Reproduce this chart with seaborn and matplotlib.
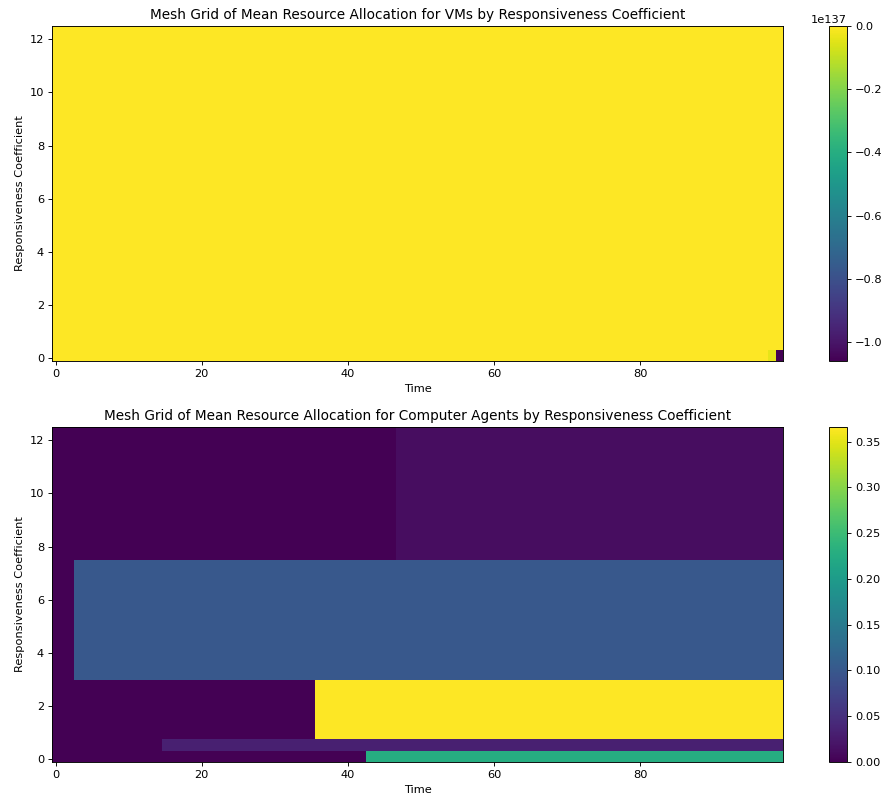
import numpy as np
import seaborn as sns
import matplotlib
matplotlib.use("Agg")
import matplotlib.pyplot as plt

# responsiveness coefficients (rows) and time steps (columns)
coefficients = [0.1, 0.5, 1, 5, 10]
time_steps = np.arange(100)

# VM mean allocation: ~0 everywhere, except the last steps of the 0.1 row
vm_base = [0.0, 0.0, 0.0, 0.0, 0.0]
vm_tail_times = [98, 99]
vm_tail_values = [-0.04e137, -1.06e137]

# computer agents: each row jumps from one level to another at a given step
agent_switch = [43, 15, 36, 3, 47]
agent_before = [0.0, 0.0, 0.001, 0.0, 0.001]
agent_after = [0.227, 0.032, 0.366, 0.1, 0.012]

vm_grid = np.array([[vm_base[i]] * len(time_steps) for i in range(len(coefficients))])
for t, v in zip(vm_tail_times, vm_tail_values):
    vm_grid[0, t] = v

agent_grid = np.array([
    np.where(time_steps < agent_switch[i], agent_before[i], agent_after[i])
    for i in range(len(coefficients))
])

cmap = sns.color_palette("viridis", as_cmap=True)
X, Y = np.meshgrid(time_steps, coefficients)

dpi = 82
fig = plt.figure(figsize=(895 / dpi, 801 / dpi), dpi=dpi)
ax1 = fig.add_axes([0.0581, 0.5493, 0.8168, 0.4182])
cax1 = fig.add_axes([0.9263, 0.5493, 0.0201, 0.4182])
ax2 = fig.add_axes([0.0581, 0.0487, 0.8168, 0.4182])
cax2 = fig.add_axes([0.9263, 0.0487, 0.0201, 0.4182])

m1 = ax1.pcolormesh(X, Y, vm_grid, cmap=cmap, shading='nearest')
fig.colorbar(m1, cax=cax1)
ax1.set_title("Mesh Grid of Mean Resource Allocation for VMs by Responsiveness Coefficient")
ax1.set_xlabel("Time")
ax1.set_ylabel("Responsiveness Coefficient")

m2 = ax2.pcolormesh(X, Y, agent_grid, cmap=cmap, shading='nearest')
fig.colorbar(m2, cax=cax2)
ax2.set_title("Mesh Grid of Mean Resource Allocation for Computer Agents by Responsiveness Coefficient")
ax2.set_xlabel("Time")
ax2.set_ylabel("Responsiveness Coefficient")

plt.savefig("out.png", dpi=dpi)
